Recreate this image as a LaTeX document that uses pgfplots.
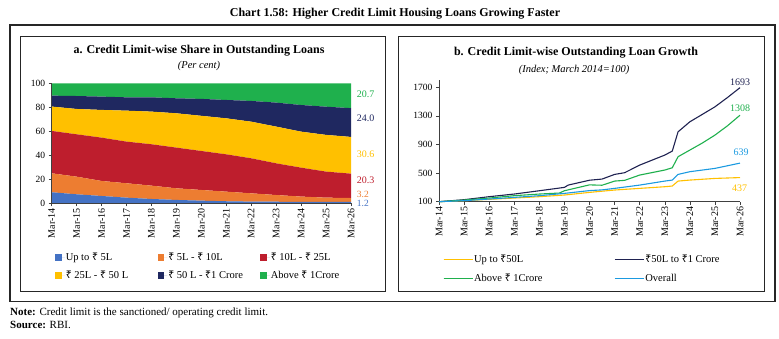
\documentclass[border=0pt]{standalone}
\usepackage{pgfplots}
\pgfplotsset{compat=1.18}
\usepackage{pgfplotstable}
\usepackage{fontspec}
\setmainfont{Liberation Serif}
\newfontfamily\rupfont{Noto Sans}
\DeclareRobustCommand{\rs}{{\rupfont ₹}}
\definecolor{cblue}{HTML}{4472C4}
\definecolor{corange}{HTML}{ED7D31}
\definecolor{cred}{HTML}{BE1E2D}
\definecolor{cyellow}{HTML}{FFC000}
\definecolor{cnavy}{HTML}{1F2860}
\definecolor{cgreen}{HTML}{1FB04D}
\definecolor{lblue}{HTML}{1B9AE0}
\definecolor{lnavy}{HTML}{1F2251}
\definecolor{axgray}{HTML}{404040}

\pgfplotstableread{
x a b c d e f
0 9.2 15.8 35.3 20.3 9.1 10.3
1 7.5 14.7 35.3 21.1 10.8 10.6
2 6.1 12.5 36.1 23.1 11.1 11.1
3 4.7 12.0 34.7 25.8 11.1 11.7
4 3.6 11.1 34.5 27.2 11.9 11.7
5 2.8 9.7 33.9 28.6 12.5 12.5
6 2.2 8.9 32.5 29.3 14.1 13.0
7 1.7 8.0 31.1 30.0 15.3 13.9
8 1.4 6.9 29.2 30.5 17.3 14.7
9 1.3 5.6 26.4 30.6 20.0 16.1
10 1.2 4.4 24.1 30.0 22.2 18.1
11 1.2 3.5 21.7 30.6 23.5 19.5
12 1.2 3.2 20.3 30.6 24.0 20.7
}\sharedata

\pgfplotstableread{
x y
0 100
1 114
2 133
3 151
4 170
5 193
6 230
7 263
8 286
9 309
9.3 319
9.53 388
10 402
11 425
12 437
}\upfifty

\pgfplotstableread{
x y
0 100
1 128
2 170
3 207
4 253
5 300
5.15 332
6 400
6.5 416
7 481
7.4 505
8 611
9 751
9.3 807
9.53 1076
10 1216
10.5 1320
11 1425
11.5 1555
12 1693
}\fiftyone

\pgfplotstableread{
x y
0 100
1 123
2 151
3 184
4 207
4.8 221
5 253
6 335
6.5 330
7 388
7.4 398
8 472
9 542
9.3 574
9.53 728
10 821
10.5 920
11 1030
11.5 1160
12 1308
}\aboveone

\pgfplotstableread{
x y
0 100
1 114
2 137
3 160
4 184
5 216
6 255
6.5 265
7 286
8 332
9 388
9.3 402
9.53 481
10 519
11 565
12 639
}\overalldata

\begin{document}
\begin{tikzpicture}
\path[use as bounding box] (0,0) rectangle (779pt,339pt);
% frames
\draw[line width=1.4pt, black!85] (10pt,37.5pt) rectangle (775pt,314pt);
\draw[line width=0.8pt, black!85] (20.5pt,47.5pt) rectangle (385pt,302.5pt);
\draw[line width=0.8pt, black!85] (398pt,47.5pt) rectangle (764.5pt,302.5pt);
% titles
\node[font=\fontsize{12}{14}\selectfont\bfseries] at (395pt,325pt) {Chart 1.58: Higher Credit Limit Housing Loans Growing Faster};
\node[font=\fontsize{12}{14}\selectfont\bfseries] at (199pt,288.3pt) {a. Credit Limit-wise Share in Outstanding Loans};
\node[font=\fontsize{10.5}{12}\selectfont\itshape] at (199pt,273.5pt) {(Per cent)};
\node[font=\fontsize{12}{14}\selectfont\bfseries] at (576pt,286pt) {b. Credit Limit-wise Outstanding Loan Growth};
\node[font=\fontsize{10.5}{12}\selectfont\itshape] at (574pt,269pt) {(Index; March 2014=100)};
\node[font=\fontsize{11}{12}\selectfont, anchor=west, inner sep=0pt] at (10pt,26.3pt) {\textbf{Note:} Credit limit is the sanctioned/ operating credit limit.};
\node[font=\fontsize{11}{12}\selectfont, anchor=west, inner sep=0pt] at (10pt,14pt) {\textbf{Source:} RBI.};

% ---------- panel a ----------
\begin{axis}[
  at={(51.7pt,135.7pt)}, anchor=south west,
  width=299.3pt, height=120pt, scale only axis,
  xmin=0, xmax=12, ymin=0, ymax=100,
  stack plots=y, area style,
  axis x line*=bottom, axis y line*=left,
  axis line style={axgray, line width=0.6pt},
  xtick={0,...,12},
  xticklabels={Mar-14,Mar-15,Mar-16,Mar-17,Mar-18,Mar-19,Mar-20,Mar-21,Mar-22,Mar-23,Mar-24,Mar-25,Mar-26},
  ytick={0,20,...,100},
  tick align=outside, major tick length=3pt,
  tick style={axgray, line width=0.5pt},
  x tick label style={rotate=90, anchor=east, font=\fontsize{10}{11}\selectfont, inner sep=2pt},
  y tick label style={font=\fontsize{9.5}{10}\selectfont},
  /pgf/number format/assume math mode=true,
  clip=false,
  legend columns=3,
  legend style={draw=none, fill=none, inner sep=0pt, outer sep=0pt,
    at={(0.012,-0.405)}, anchor=north west, row sep=7pt,
    font=\fontsize{10.5}{12}\selectfont, nodes={inner sep=1pt}},
  legend cell align=left,
  legend image code/.code={\fill[#1] (0pt,-3.3pt) rectangle (6.6pt,3.3pt); \path (0pt,0pt) -- (9.5pt,0pt);},
]
\addplot[fill=cblue, draw=none] table[x=x,y=a] {\sharedata} \closedcycle;
\addlegendentry{\makebox[91pt][l]{Up to \rs\ 5L}}
\addplot[fill=corange, draw=none] table[x=x,y=b] {\sharedata} \closedcycle;
\addlegendentry{\makebox[91pt][l]{\rs\ 5L - \rs\ 10L}}
\addplot[fill=cred, draw=none] table[x=x,y=c] {\sharedata} \closedcycle;
\addlegendentry{\makebox[91pt][l]{\rs\ 10L - \rs\ 25L}}
\addplot[fill=cyellow, draw=none] table[x=x,y=d] {\sharedata} \closedcycle;
\addlegendentry{\makebox[91pt][l]{\rs\ 25L - \rs\ 50 L}}
\addplot[fill=cnavy, draw=none] table[x=x,y=e] {\sharedata} \closedcycle;
\addlegendentry{\makebox[91pt][l]{\rs\ 50 L - \rs1 Crore}}
\addplot[fill=cgreen, draw=none] table[x=x,y=f] {\sharedata} \closedcycle;
\addlegendentry{\makebox[91pt][l]{Above \rs\ 1Crore}}
\node[anchor=west, inner sep=0pt, font=\fontsize{10}{11}\selectfont, text=cgreen] at (axis cs:12.23,90.6) {20.7};
\node[anchor=west, inner sep=0pt, font=\fontsize{10}{11}\selectfont, text=cnavy] at (axis cs:12.23,71.1) {24.0};
\node[anchor=west, inner sep=0pt, font=\fontsize{10}{11}\selectfont, text=cyellow] at (axis cs:12.23,41) {30.6};
\node[anchor=west, inner sep=0pt, font=\fontsize{10}{11}\selectfont, text=cred] at (axis cs:12.23,19.4) {20.3};
\node[anchor=west, inner sep=0pt, font=\fontsize{9.5}{10}\selectfont, text=corange] at (axis cs:12.23,7.0) {3.2};
\node[anchor=west, inner sep=0pt, font=\fontsize{9.5}{10}\selectfont, text=cblue] at (axis cs:12.23,-0.3) {1.2};
\end{axis}

% ---------- panel b ----------
\begin{axis}[
  at={(439pt,137.3pt)}, anchor=south west,
  width=301pt, height=121.7pt, scale only axis,
  xmin=0, xmax=12, ymin=100, ymax=1800,
  axis x line*=bottom, axis y line*=left,
  axis line style={axgray, line width=0.6pt},
  xtick={0,...,12},
  xticklabels={Mar-14,Mar-15,Mar-16,Mar-17,Mar-18,Mar-19,Mar-20,Mar-21,Mar-22,Mar-23,Mar-24,Mar-25,Mar-26},
  ytick={100,500,900,1300,1700},
  tick align=outside, major tick length=3pt,
  tick style={axgray, line width=0.5pt},
  x tick label style={rotate=90, anchor=east, font=\fontsize{10}{11}\selectfont, inner sep=2pt},
  y tick label style={font=\fontsize{9.5}{10}\selectfont},
  /pgf/number format/assume math mode=true,
  /pgf/number format/1000 sep={},
  clip=false,
  legend columns=2,
  legend style={draw=none, fill=none, inner sep=0pt, outer sep=0pt,
    at={(0.013,-0.43)}, anchor=north west, row sep=8pt,
    font=\fontsize{10.5}{12}\selectfont, nodes={inner sep=1pt}},
  legend cell align=left,
  legend image code/.code={\draw[#1, line width=1.4pt] (0pt,0pt) -- (26pt,0pt); \path (0pt,0pt) -- (29pt,0pt);},
]
\addplot[cyellow, line width=1.1pt, mark=none] table[x=x,y=y] {\upfifty};
\addlegendentry{\makebox[139pt][l]{Up to \rs50L}}
\addplot[lnavy, line width=1.1pt, mark=none] table[x=x,y=y] {\fiftyone};
\addlegendentry{\makebox[139pt][l]{\rs50L to \rs1 Crore}}
\addplot[cgreen, line width=1.1pt, mark=none] table[x=x,y=y] {\aboveone};
\addlegendentry{\makebox[139pt][l]{Above \rs\ 1Crore}}
\addplot[lblue, line width=1.1pt, mark=none] table[x=x,y=y] {\overalldata};
\addlegendentry{\makebox[139pt][l]{Overall}}
\node[inner sep=1pt, font=\fontsize{10}{11}\selectfont, text=lnavy] at (axis cs:12.0,1774) {1693};
\node[inner sep=1pt, font=\fontsize{10}{11}\selectfont, text=cgreen] at (axis cs:12.0,1411) {1308};
\node[inner sep=1pt, font=\fontsize{10}{11}\selectfont, text=lblue] at (axis cs:12.04,797) {639};
\node[inner sep=1pt, font=\fontsize{10}{11}\selectfont, text=cyellow] at (axis cs:11.98,287) {437};
\end{axis}
\end{tikzpicture}
\end{document}
